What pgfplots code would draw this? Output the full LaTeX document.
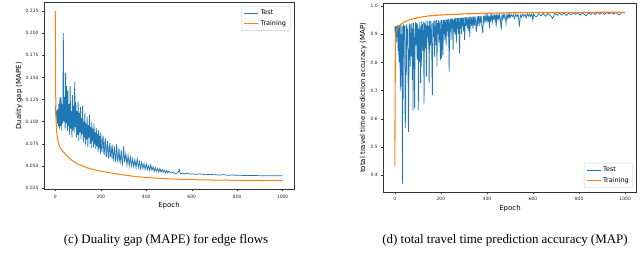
\documentclass[border=0pt]{standalone}
\usepackage{pgfplots}
\pgfplotsset{compat=1.18}
\usepackage{fontspec}
\setmainfont{DejaVu Sans}
\newfontfamily\capfont{Liberation Serif}
\definecolor{mblue}{HTML}{1F77B4}
\definecolor{morange}{HTML}{FF7F0E}

\pgfplotstableread{
e v
0 0.118
3 0.104
5 0.112
8 0.098
10 0.114
13 0.094
15 0.120
18 0.092
20 0.127
23 0.095
25 0.128
28 0.090
30 0.120
33 0.098
35 0.200
38 0.100
40 0.128
43 0.092
45 0.155
48 0.098
50 0.140
53 0.090
55 0.135
58 0.095
60 0.120
63 0.085
65 0.140
68 0.092
70 0.112
73 0.082
75 0.130
78 0.090
80 0.118
83 0.088
85 0.145
88 0.094
90 0.122
93 0.082
95 0.112
98 0.085
100 0.123
103 0.078
105 0.110
108 0.088
110 0.117
113 0.080
115 0.104
118 0.086
120 0.118
123 0.076
125 0.100
128 0.082
130 0.110
133 0.074
135 0.098
138 0.080
140 0.105
143 0.072
145 0.096
148 0.082
150 0.108
153 0.075
155 0.094
158 0.070
160 0.100
163 0.078
165 0.092
168 0.071
170 0.098
173 0.074
175 0.088
178 0.069
180 0.093
183 0.072
185 0.086
188 0.066
190 0.090
193 0.070
195 0.084
198 0.064
200 0.088
203 0.070
205 0.066
208 0.080
210 0.084
213 0.066
215 0.062
218 0.078
220 0.080
223 0.064
225 0.060
228 0.074
230 0.078
233 0.062
235 0.058
238 0.072
240 0.076
243 0.061
245 0.060
248 0.070
250 0.074
253 0.059
255 0.057
258 0.068
260 0.072
263 0.058
265 0.056
268 0.066
270 0.075
273 0.057
275 0.055
278 0.064
280 0.070
283 0.056
285 0.054
288 0.062
290 0.068
293 0.055
295 0.052
298 0.060
300 0.072
305 0.054
310 0.064
315 0.051
320 0.062
325 0.050
330 0.060
335 0.050
340 0.058
345 0.049
350 0.057
355 0.048
360 0.058
365 0.048
370 0.055
375 0.047
380 0.054
385 0.047
390 0.053
395 0.046
400 0.052
405 0.046
410 0.050
415 0.045
420 0.051
425 0.045
430 0.049
435 0.044
440 0.048
445 0.044
450 0.047
455 0.043
460 0.047
465 0.043
470 0.046
475 0.043
480 0.045
485 0.042
490 0.045
495 0.042
500 0.044
510 0.042
520 0.043
530 0.041
540 0.043
545 0.046
550 0.041
560 0.042
570 0.041
580 0.042
590 0.041
600 0.041
620 0.0405
640 0.041
660 0.040
680 0.0405
700 0.040
720 0.0398
740 0.040
760 0.0395
780 0.0397
800 0.0394
850 0.0392
900 0.039
950 0.039
1000 0.0388
}\gapTest

\pgfplotstableread{
e v
0 0.225
1 0.150
2 0.118
3 0.105
4 0.097
6 0.088
10 0.080
15 0.075
20 0.071
30 0.067
42 0.064
60 0.059
80 0.055
100 0.052
125 0.0495
150 0.047
200 0.044
270 0.041
350 0.038
450 0.036
550 0.0348
700 0.0340
850 0.0336
1000 0.0334
}\gapTrain

\pgfplotstableread{
e v
0 0.925
2 0.90
4 0.93
6 0.87
8 0.928
10 0.89
12 0.93
14 0.84
16 0.932
18 0.80
20 0.93
22 0.86
24 0.70
26 0.934
28 0.88
30 0.714
32 0.93
33 0.371
35 0.90
36 0.667
38 0.935
40 0.88
42 0.93
44 0.75
45 0.566
47 0.62
49 0.93
50 0.755
52 0.936
54 0.86
56 0.92
58 0.70
59 0.554
61 0.75
63 0.938
65 0.87
67 0.785
69 0.936
71 0.90
73 0.82
75 0.94
76 0.738
78 0.92
79 0.63
81 0.94
83 0.88
85 0.77
86 0.637
88 0.90
90 0.942
92 0.86
94 0.94
97 0.81
99 0.935
101 0.88
102 0.63
104 0.92
106 0.80
108 0.944
110 0.87
112 0.726
114 0.93
115 0.785
117 0.945
119 0.90
121 0.84
123 0.944
125 0.88
127 0.655
129 0.94
131 0.90
133 0.85
135 0.946
137 0.75
139 0.93
141 0.89
143 0.946
145 0.87
147 0.93
149 0.726
151 0.947
153 0.90
155 0.86
157 0.948
159 0.91
161 0.80
163 0.684
165 0.94
167 0.89
169 0.948
171 0.88
173 0.82
175 0.949
177 0.91
179 0.86
181 0.95
183 0.785
185 0.94
187 0.90
189 0.95
191 0.87
193 0.945
195 0.91
198 0.81
200 0.95
202 0.89
203 0.814
205 0.951
207 0.92
209 0.826
211 0.95
213 0.90
215 0.952
217 0.88
219 0.95
221 0.92
223 0.86
225 0.953
227 0.91
229 0.952
231 0.89
233 0.953
236 0.767
238 0.95
240 0.91
242 0.954
244 0.88
246 0.955
248 0.92
250 0.955
253 0.844
255 0.95
257 0.91
259 0.956
261 0.90
263 0.956
265 0.93
267 0.868
269 0.957
271 0.92
273 0.957
275 0.90
277 0.957
279 0.93
281 0.832
283 0.958
285 0.92
287 0.958
289 0.90
291 0.958
293 0.93
295 0.959
297 0.91
300 0.959
303 0.88
306 0.96
309 0.93
312 0.96
315 0.92
318 0.961
321 0.91
324 0.961
325 0.89
328 0.94
330 0.962
333 0.93
336 0.962
339 0.92
342 0.962
345 0.93
348 0.963
351 0.94
354 0.909
357 0.963
360 0.94
363 0.964
366 0.93
369 0.964
372 0.945
375 0.964
378 0.93
382 0.903
385 0.965
388 0.945
391 0.965
394 0.95
397 0.966
400 0.94
403 0.966
406 0.95
409 0.966
411 0.921
414 0.966
417 0.95
420 0.967
423 0.945
426 0.967
429 0.955
432 0.967
435 0.95
438 0.968
440 0.927
443 0.968
446 0.955
449 0.968
452 0.95
455 0.968
458 0.955
462 0.915
465 0.968
468 0.955
471 0.969
474 0.958
477 0.969
480 0.955
483 0.939
486 0.969
489 0.958
492 0.97
495 0.96
498 0.97
500 0.958
505 0.97
510 0.962
515 0.97
520 0.955
525 0.971
530 0.962
535 0.971
541 0.927
545 0.968
550 0.96
555 0.971
560 0.963
565 0.971
570 0.958
575 0.972
580 0.964
585 0.972
590 0.962
595 0.972
599 0.95
603 0.972
608 0.964
615 0.962
625 0.973
635 0.965
645 0.973
655 0.963
665 0.974
675 0.966
685 0.956
695 0.974
705 0.967
715 0.975
725 0.968
735 0.975
745 0.966
755 0.975
765 0.969
775 0.976
785 0.97
795 0.976
805 0.968
815 0.976
830 0.965
840 0.976
850 0.97
860 0.977
870 0.97
880 0.977
890 0.971
900 0.977
910 0.97
920 0.977
930 0.972
940 0.977
950 0.971
960 0.977
974 0.968
985 0.976
1000 0.975
}\mapTest

\pgfplotstableread{
e v
0 0.434
1 0.60
2 0.80
3 0.895
5 0.908
10 0.918
20 0.931
40 0.943
60 0.950
80 0.955
110 0.960
150 0.965
200 0.968
300 0.972
400 0.974
500 0.976
700 0.977
1000 0.978
}\mapTrain

\pgfplotsset{
  common/.style={
    scale only axis, anchor=south west,
    axis line style={line width=0.5bp, black!80},
    every tick/.style={line width=0.4bp, black!80},
    tick align=outside, major tick length=2bp,
    xtick pos=left, ytick pos=left,
    tick label style={font=\fontsize{4.5}{5}\selectfont, black!85},
    /pgf/number format/assume math mode=true,
    /pgf/number format/1000 sep={},
    label style={font=\fontsize{7}{8}\selectfont},
    xmin=-50, xmax=1050,
    xtick={0,200,...,1000},
    xlabel={Epoch},
    x label style={at={(axis description cs:0.5,0)}, anchor=center, yshift=-16bp},
    legend cell align=left,
    legend style={font=\fontsize{6.5}{7.5}\selectfont, draw=black!20, rounded corners=1bp,
      inner sep=2bp, row sep=0bp},
    legend image code/.code={\draw[##1] (0bp,0bp) -- (14bp,0bp);},
  }
}

\begin{document}
\begin{tikzpicture}
\useasboundingbox (0bp,0bp) rectangle (640bp,264bp);

\begin{axis}[common, at={(44bp,74.8bp)}, width=250bp, height=186.7bp,
  ymin=0.0237, ymax=0.2346,
  ytick={0.025,0.05,...,0.226},
  yticklabel style={/pgf/number format/.cd, fixed, fixed zerofill, precision=3},
  ylabel={Duality gap (MAPE)},
  y label style={at={(axis description cs:-0.099,0.5)}, anchor=center},
  legend style={at={(0.985,0.982)}, anchor=north east},
]
\addplot[mblue, line width=0.75bp] table[x=e,y=v] {\gapTest};
\addlegendentry{Test}
\addplot[morange, line width=1bp] table[x=e,y=v] {\gapTrain};
\addlegendentry{Training}
\end{axis}

\begin{axis}[common, at={(383.3bp,71.9bp)}, width=253.4bp, height=188.5bp,
  ymin=0.3406, ymax=1.0084,
  ytick={0.4,0.5,...,1.01},
  yticklabel style={/pgf/number format/.cd, fixed, fixed zerofill, precision=1},
  ylabel={total travel time prediction accuracy (MAP)},
  y label style={at={(axis description cs:-0.079,0.5)}, anchor=center},
  legend style={at={(0.985,0.022)}, anchor=south east},
]
\addplot[mblue, line width=0.75bp] table[x=e,y=v] {\mapTest};
\addlegendentry{Test}
\addplot[morange, line width=1.1bp] table[x=e,y=v] {\mapTrain};
\addlegendentry{Training}
\end{axis}

\node[font=\capfont\fontsize{13}{15}\selectfont, anchor=center] at (166bp,23.5bp) {(c) Duality gap (MAPE) for edge flows};
\node[font=\capfont\fontsize{13}{15}\selectfont, anchor=center] at (505bp,23.5bp) {(d) total travel time prediction accuracy (MAP)};
\end{tikzpicture}
\end{document}
